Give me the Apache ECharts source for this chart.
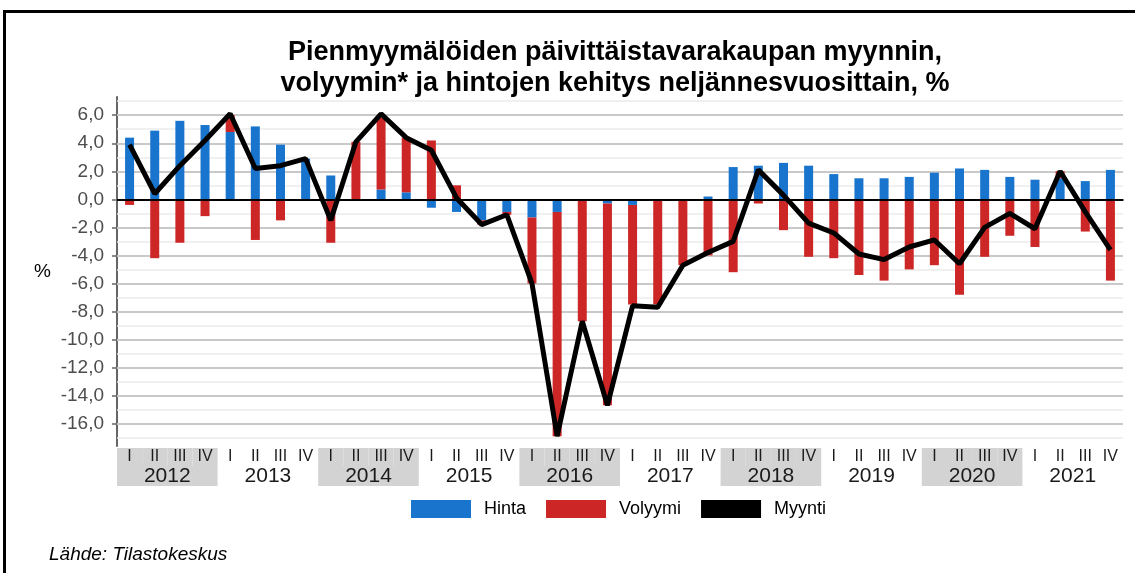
<!DOCTYPE html>
<html>
<head>
<meta charset="utf-8">
<script src="https://cdn.jsdelivr.net/npm/echarts@6/dist/echarts.min.js"></script>
<style>
  html, body { margin: 0; padding: 0; background: #ffffff; overflow: hidden; }
  #chart { position: absolute; left: 0; top: 0; width: 1135px; height: 573px; }
  #frame { position: absolute; left: 3px; top: 10px; width: 1200px; height: 700px;
           border-top: 3px solid #000; border-left: 3px solid #000; pointer-events: none; }
</style>
</head>
<body>
<div id="chart"></div>
<div id="frame"></div>
<script>
// ---- data ----
const years = ['2012','2013','2014','2015','2016','2017','2018','2019','2020','2021'];
const quarterNames = ['I','II','III','IV'];
const quarters = [];
years.forEach(y => quarterNames.forEach(q => quarters.push(y + ' ' + q)));

const hinta = [4.4, 4.9, 5.6, 5.3, 4.8, 5.2, 3.9, 2.9, 1.7, 0.0, 0.7, 0.5,
               -0.6, -0.9, -1.5, -0.9, -1.3, -0.9, 0.0, -0.3, -0.4, -0.1, 0.0, 0.2,
               2.3, 2.4, 2.6, 2.4, 1.8, 1.5, 1.5, 1.6, 1.9, 2.2, 2.1, 1.6,
               1.4, 1.5, 1.3, 2.1];
const volyymi = [-0.4, -4.2, -3.1, -1.2, 1.2, -2.9, -1.5, 0.0, -3.1, 4.1, 5.1, 3.9,
                 4.2, 1.0, -0.3, -0.2, -4.7, -16.0, -8.7, -14.4, -7.1, -7.4, -4.7, -4.0,
                 -5.2, -0.3, -2.2, -4.1, -4.2, -5.4, -5.8, -5.0, -4.7, -6.8, -4.1, -2.6,
                 -3.4, 0.5, -2.3, -5.8];
const myynti = [3.9, 0.4, 2.4, 4.2, 6.1, 2.2, 2.4, 2.9, -1.5, 4.1, 6.1, 4.4,
                3.5, 0.1, -1.8, -1.1, -6.0, -16.9, -8.7, -14.7, -7.6, -7.7, -4.7, -3.8,
                -3.0, 2.1, 0.3, -1.7, -2.4, -3.9, -4.3, -3.4, -2.9, -4.6, -2.0, -1.0,
                -2.1, 2.0, -0.9, -3.6];
const yTickValues = [-16, -14, -12, -10, -8, -6, -4, -2, 0, 2, 4, 6];
const gridValues = [-17, -16, -15, -14, -13, -12, -11, -10, -9, -8, -7, -6, -5, -4, -3, -2, -1,
                    1, 2, 3, 4, 5, 6, 7];

// ---- chart ----
const chart = echarts.init(document.getElementById('chart'), null, { renderer: 'canvas' });
const FONT = '"Liberation Sans", Arial, sans-serif';
const GRID_LEFT = 117, GRID_RIGHT = 12;
const yearWidth = (1135 - GRID_LEFT - GRID_RIGHT) / years.length;
const qWidth = yearWidth / 4;

function rich(bg) {
  return {
    ['q' + bg]: { width: qWidth, height: 18, lineHeight: 18, align: 'center', verticalAlign: 'middle',
                  fontSize: 16, color: '#1a1a1a', fontFamily: FONT,
                  backgroundColor: bg === 'g' ? '#d3d3d3' : 'transparent' },
    ['y' + bg]: { width: yearWidth, height: 20, lineHeight: 20, align: 'center', verticalAlign: 'middle',
                  fontSize: 21, color: '#1a1a1a', fontFamily: FONT,
                  backgroundColor: bg === 'g' ? '#d3d3d3' : 'transparent' }
  };
}

const option = {
  animation: false,
  backgroundColor: '#ffffff',
  title: [
    { text: 'Pienmyymälöiden päivittäistavarakaupan myynnin,\nvolyymin* ja hintojen kehitys neljännesvuosittain, %',
      left: 610, top: 32, textAlign: 'center',
      textStyle: { fontFamily: FONT, fontSize: 27, fontWeight: 'bold', color: '#000', lineHeight: 31 } },
    { text: 'Lähde: Tilastokeskus', left: 44, top: 540,
      textStyle: { fontFamily: FONT, fontSize: 19, fontStyle: 'italic', fontWeight: 'normal', color: '#000' } }
  ],
  legend: {
    data: ['Hinta', 'Volyymi', 'Myynti'],
    left: 406, top: 495,
    icon: 'rect', itemWidth: 60, itemHeight: 18, itemGap: 20,
    textStyle: { fontFamily: FONT, fontSize: 18, color: '#000', padding: [0, 0, 0, 8] },
    selectedMode: false
  },
  grid: { left: GRID_LEFT, right: GRID_RIGHT, top: 97, bottom: 127, containLabel: false },
  xAxis: [
    { type: 'category', data: quarters, position: 'bottom',
      axisLine: { show: true, lineStyle: { color: '#666666', width: 2 } },
      axisTick: { show: false }, axisLabel: { show: false }, splitLine: { show: false } },
    { type: 'category', data: years, position: 'bottom', offset: 0,
      axisLine: { show: false }, axisTick: { show: false }, splitLine: { show: false },
      axisLabel: {
        margin: 2, interval: 0,
        formatter: function (v, i) {
          const s = (i % 2 === 0) ? 'g' : 'w';
          return quarterNames.map(q => '{q' + s + '|' + q + '}').join('') + '\n{y' + s + '|' + v + '}';
        },
        rich: Object.assign({}, rich('g'), rich('w'))
      } }
  ],
  yAxis: {
    type: 'value', min: -17.6, max: 7.3,
    name: '%', nameLocation: 'middle', nameRotate: 0, nameGap: 66,
    nameTextStyle: { fontFamily: FONT, fontSize: 19, color: '#000' },
    axisLine: { show: true, lineStyle: { color: '#666666', width: 2 } },
    axisTick: { show: true, length: 5, customValues: yTickValues, lineStyle: { color: '#666666', width: 1.5 } },
    axisLabel: { customValues: yTickValues, fontFamily: FONT, fontSize: 19, color: '#4d4d4d', margin: 13,
                 formatter: v => v.toFixed(1).replace('.', ',') },
    splitLine: { show: false }
  },
  series: [
    { name: 'grid', type: 'line', data: [], z: 1, silent: true,
      markLine: { z: 1, silent: true, symbol: ['none', 'none'], label: { show: false }, animation: false,
        data: gridValues.map(v => ({ yAxis: v,
          lineStyle: { type: 'solid', color: (v % 2 === 0) ? '#c9c9c9' : '#ebebeb', width: (v % 2 === 0) ? 2 : 1.5 } })) } },
    { name: 'Hinta', type: 'bar', stack: 'tot', data: hinta, barWidth: 9, z: 2,
      itemStyle: { color: '#1874cd' } },
    { name: 'Volyymi', type: 'bar', stack: 'tot', data: volyymi, barWidth: 9, z: 2,
      itemStyle: { color: '#cd2626' } },
    { name: 'zero', type: 'line', data: [], z: 4, silent: true,
      markLine: { z: 4, silent: true, symbol: ['none', 'none'], label: { show: false }, animation: false,
        data: [{ yAxis: 0, lineStyle: { type: 'solid', color: '#000000', width: 2 } }] } },
    { name: 'Myynti', type: 'line', data: myynti, z: 5, symbol: 'none', showSymbol: false,
      itemStyle: { color: '#000000' },
      lineStyle: { color: '#000000', width: 5, join: 'bevel' } }
  ]
};
chart.setOption(option);
</script>
</body>
</html>
